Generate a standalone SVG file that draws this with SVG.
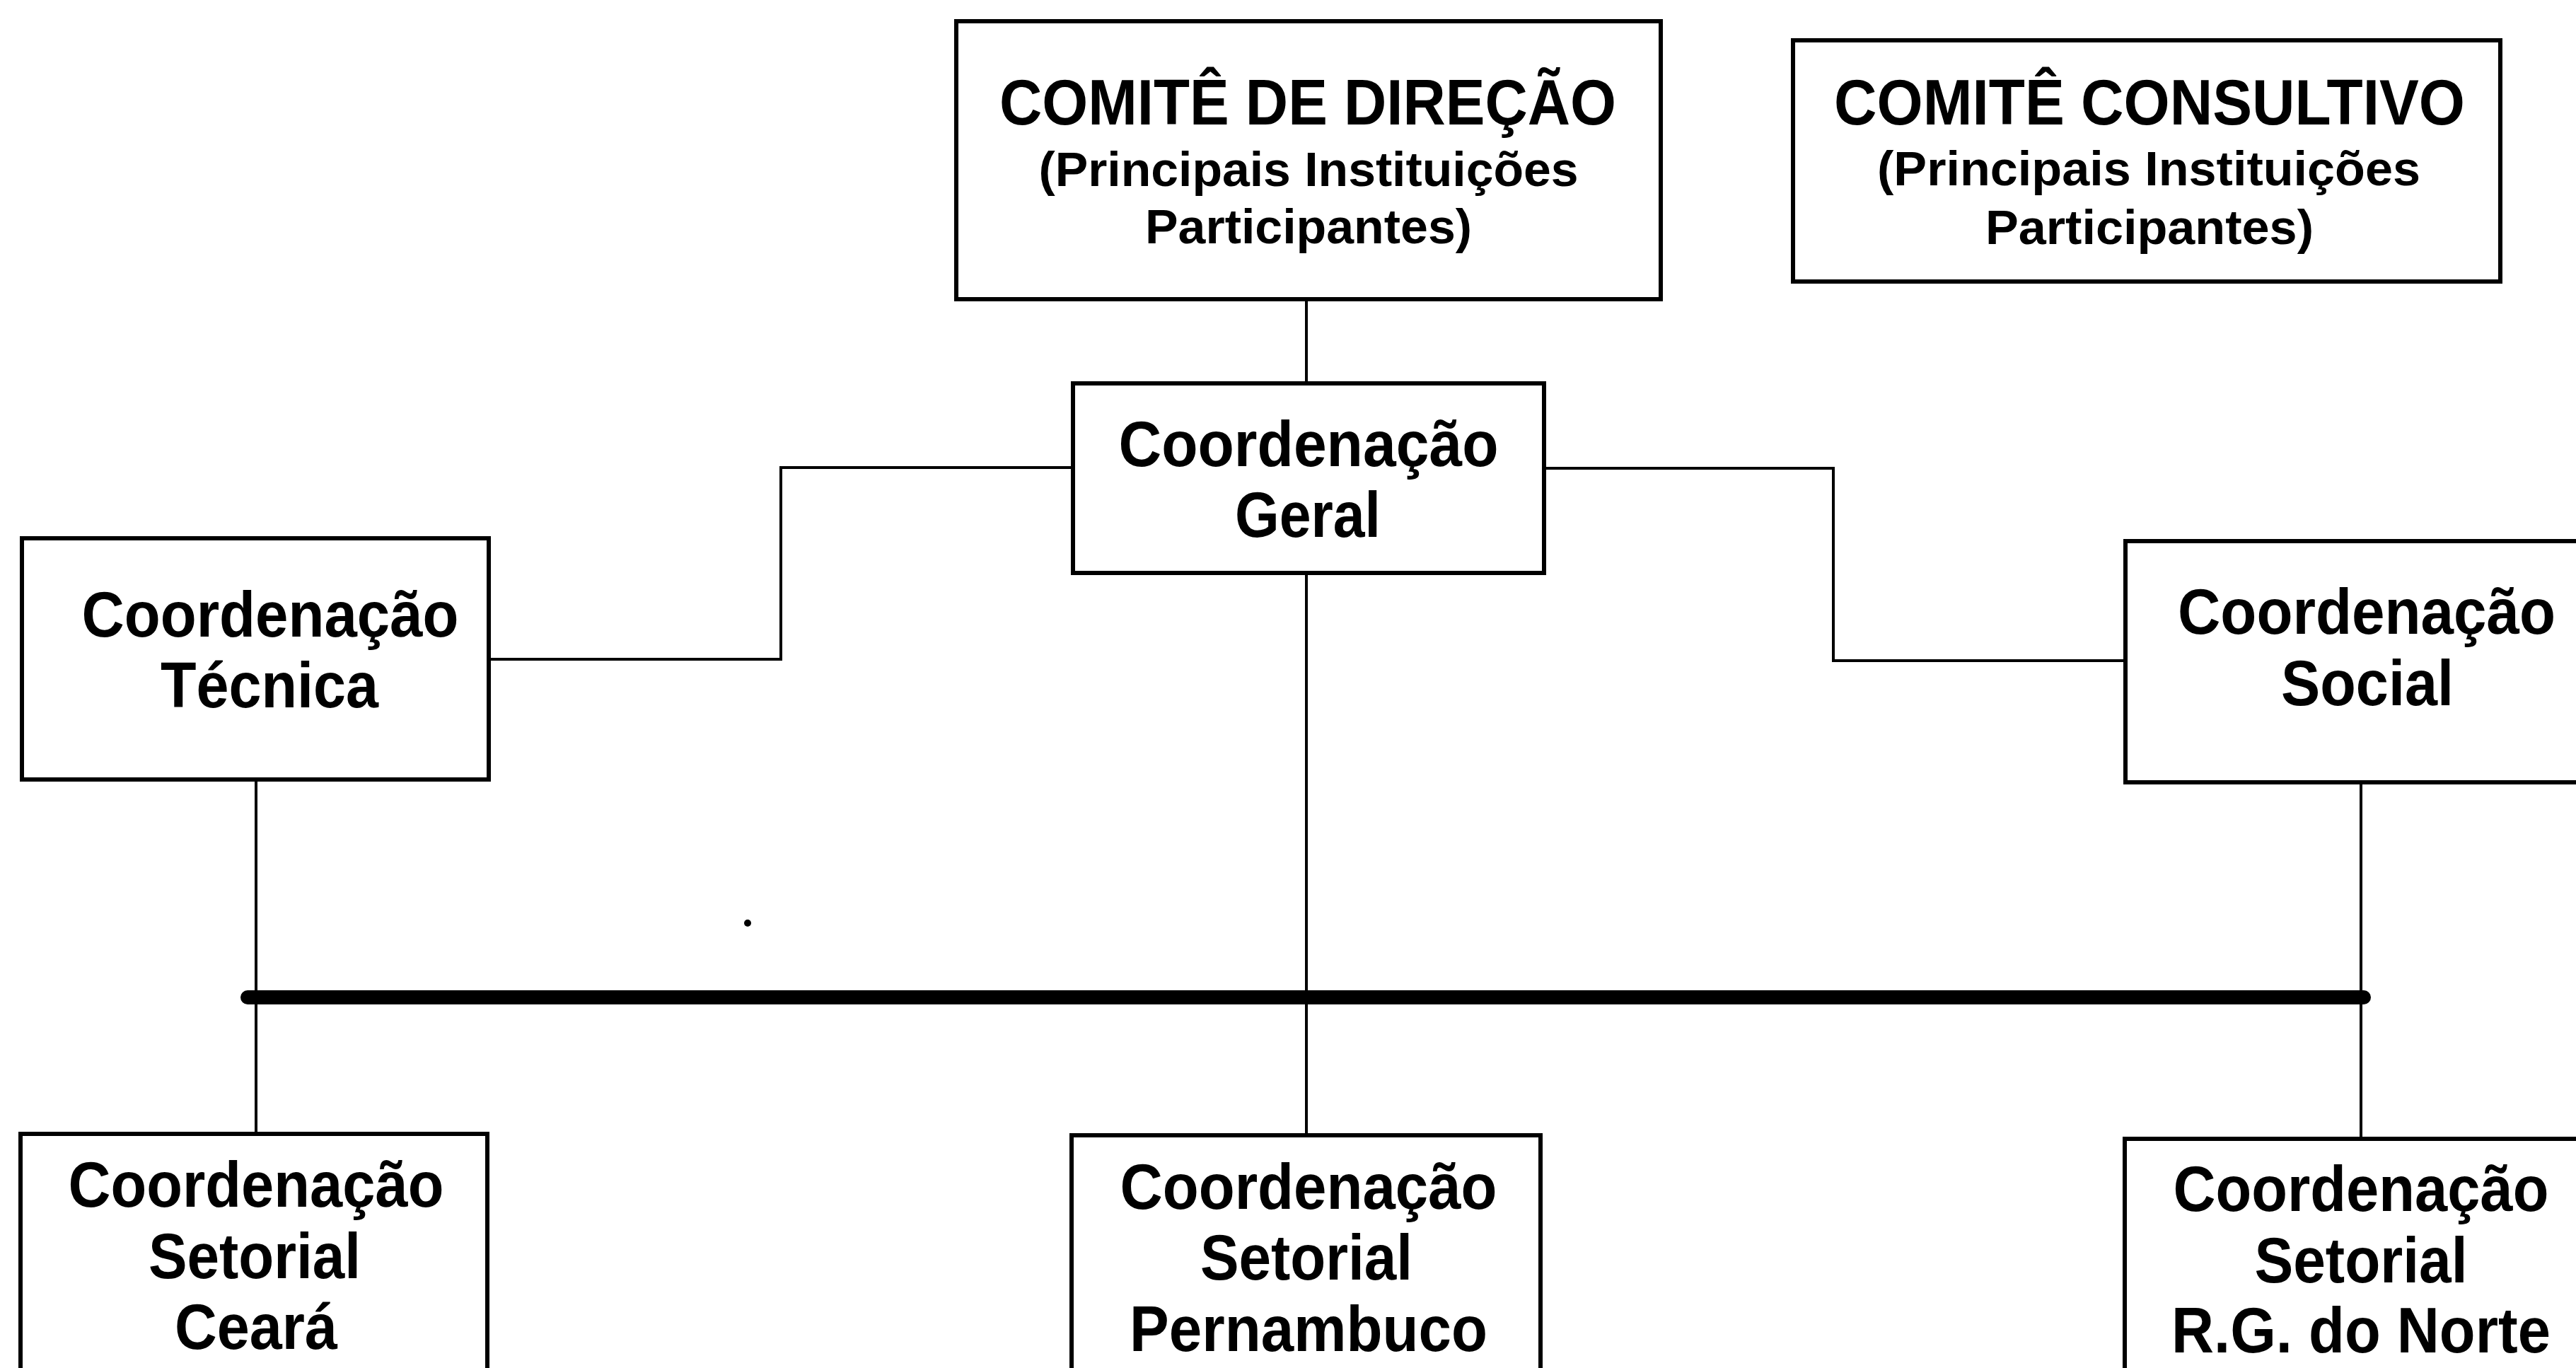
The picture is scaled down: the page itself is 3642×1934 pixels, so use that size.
<svg xmlns="http://www.w3.org/2000/svg" width="3642" height="1934" viewBox="0 0 3642 1934">
<style>
.box{fill:#fff;stroke:#000;stroke-width:6}
.ln{fill:none;stroke:#000;stroke-width:4}
.bus{fill:none;stroke:#000;stroke-width:20;stroke-linecap:round}
text{font-family:"Liberation Sans",Arial,sans-serif;font-weight:bold;fill:#000;text-anchor:middle}
.t1{font-size:90px}
.t2{font-size:68px}
.c{font-size:90px}
</style>
<rect width="3642" height="1934" fill="#fff"/>
<g id="connectors">
<path class="ln" d="M1847,423 V542"/>
<path class="ln" d="M1517,661 H1104 V932 H691"/>
<path class="ln" d="M2183,662 H2592 V934 H3005"/>
<path class="ln" d="M362,1102 V1603"/>
<path class="ln" d="M1847,810 V1605"/>
<path class="ln" d="M3338,1106 V1610"/>
<path class="bus" d="M350,1410 H3342"/>
</g>
<g id="comite-direcao">
<rect class="box" x="1352" y="30" width="996" height="393"/>
<text class="t1" x="1849" y="176" textLength="872" lengthAdjust="spacingAndGlyphs">COMITÊ DE DIREÇÃO</text>
<text class="t2" x="1850" y="263" textLength="763" lengthAdjust="spacingAndGlyphs">(Principais Instituições</text>
<text class="t2" x="1850" y="344" textLength="462" lengthAdjust="spacingAndGlyphs">Participantes)</text>
</g>
<g id="comite-consultivo">
<rect class="box" x="2535" y="57" width="1000" height="341"/>
<text class="t1" x="3039" y="176" textLength="892" lengthAdjust="spacingAndGlyphs">COMITÊ CONSULTIVO</text>
<text class="t2" x="3038" y="262" textLength="768" lengthAdjust="spacingAndGlyphs">(Principais Instituições</text>
<text class="t2" x="3039" y="345" textLength="464" lengthAdjust="spacingAndGlyphs">Participantes)</text>
</g>
<g id="coord-geral">
<rect class="box" x="1517" y="542" width="666" height="268"/>
<text class="c" x="1850" y="659" textLength="537" lengthAdjust="spacingAndGlyphs">Coordenação</text>
<text class="c" x="1849" y="759" textLength="206" lengthAdjust="spacingAndGlyphs">Geral</text>
</g>
<g id="coord-tecnica">
<rect class="box" x="31" y="761" width="660" height="341"/>
<text class="c" x="382" y="900" textLength="533" lengthAdjust="spacingAndGlyphs">Coordenação</text>
<text class="c" x="381" y="1000" textLength="308" lengthAdjust="spacingAndGlyphs">Técnica</text>
</g>
<g id="coord-social">
<rect class="box" x="3005" y="765" width="700" height="341"/>
<text class="c" x="3346" y="896" textLength="534" lengthAdjust="spacingAndGlyphs">Coordenação</text>
<text class="c" x="3347" y="997" textLength="244" lengthAdjust="spacingAndGlyphs">Social</text>
</g>
<g id="coord-ceara">
<rect class="box" x="29" y="1603" width="660" height="360"/>
<text class="c" x="362" y="1706" textLength="531" lengthAdjust="spacingAndGlyphs">Coordenação</text>
<text class="c" x="360" y="1807" textLength="300" lengthAdjust="spacingAndGlyphs">Setorial</text>
<text class="c" x="362" y="1907" textLength="230" lengthAdjust="spacingAndGlyphs">Ceará</text>
</g>
<g id="coord-pernambuco">
<rect class="box" x="1515" y="1605" width="663" height="360"/>
<text class="c" x="1850" y="1709" textLength="533" lengthAdjust="spacingAndGlyphs">Coordenação</text>
<text class="c" x="1847" y="1809" textLength="300" lengthAdjust="spacingAndGlyphs">Setorial</text>
<text class="c" x="1850" y="1910" textLength="506" lengthAdjust="spacingAndGlyphs">Pernambuco</text>
</g>
<g id="coord-rgnorte">
<rect class="box" x="3004" y="1610" width="700" height="360"/>
<text class="c" x="3338" y="1712" textLength="531" lengthAdjust="spacingAndGlyphs">Coordenação</text>
<text class="c" x="3338" y="1813" textLength="301" lengthAdjust="spacingAndGlyphs">Setorial</text>
<text class="c" x="3338" y="1912" textLength="536" lengthAdjust="spacingAndGlyphs">R.G. do Norte</text>
</g>
<circle cx="1057" cy="1305" r="5" fill="#000"/>
</svg>
